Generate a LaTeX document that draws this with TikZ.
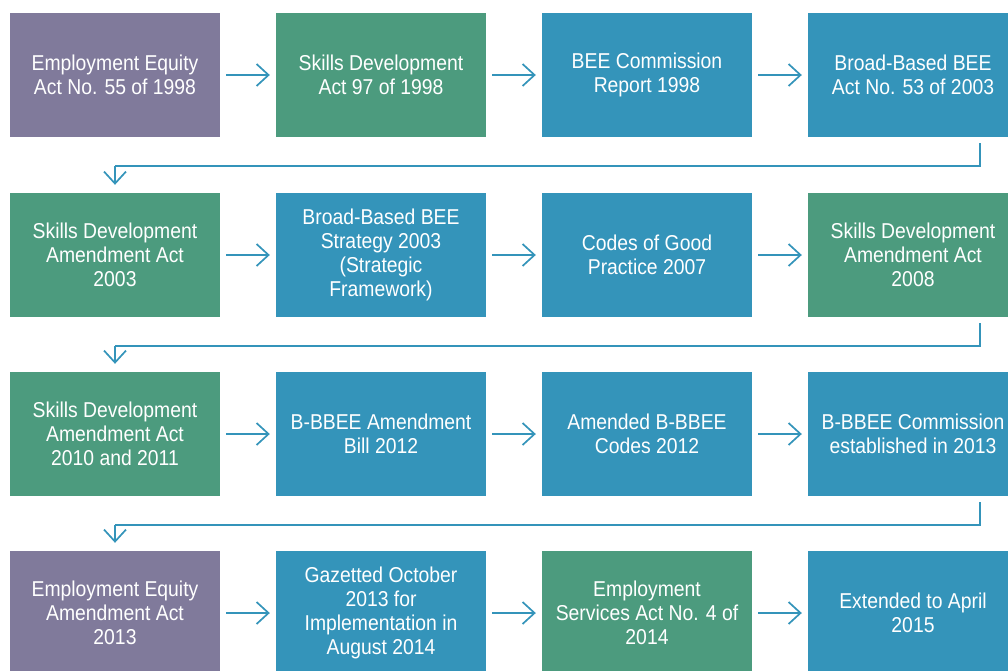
\documentclass[tikz,border=0pt]{standalone}
\usepackage{fontspec}
\setmainfont[FakeStretch=0.9]{Liberation Sans}
\usetikzlibrary{arrows.meta,calc}
\definecolor{cpurple}{RGB}{128,122,155}
\definecolor{cgreen}{RGB}{76,155,126}
\definecolor{cblue}{RGB}{52,148,186}
\begin{document}
\begin{tikzpicture}[x=1pt,y=-1pt,
  box/.style={minimum width=210pt,minimum height=124pt,inner sep=0pt,text=white,align=center,font=\fontsize{21.5}{24}\selectfont},
  pbox/.style={box,fill=cpurple},
  gbox/.style={box,fill=cgreen},
  bbox/.style={box,fill=cblue},
  arr/.style={draw=cblue,line width=1.7pt,-{Straight Barb[length=12pt,width=22pt,line width=1.7pt]}},
  conn/.style={draw=cblue,line width=1.7pt}]
\useasboundingbox (0,0) rectangle (1008,670);
\clip (0,0) rectangle (1008,670);
% row 1
\node[pbox] (r1c1) at (115,75) {Employment Equity\\Act No. 55 of 1998};
\node[gbox] (r1c2) at (381,75) {Skills Development\\Act 97 of 1998};
\node[bbox] (r1c3) at (647,75) {BEE Commission\\Report 1998};
\node[bbox] (r1c4) at (913,75) {Broad-Based BEE\\Act No. 53 of 2003};
% row 2
\node[gbox] (r2c1) at (115,255) {Skills Development\\Amendment Act\\2003};
\node[bbox] (r2c2) at (381,255) {Broad-Based BEE\\Strategy 2003\\(Strategic\\Framework)};
\node[bbox] (r2c3) at (647,255) {Codes of Good\\Practice 2007};
\node[gbox] (r2c4) at (913,255) {Skills Development\\Amendment Act\\2008};
% row 3
\node[gbox] (r3c1) at (115,434) {Skills Development\\Amendment Act\\2010 and 2011};
\node[bbox] (r3c2) at (381,434) {B-BBEE Amendment\\Bill 2012};
\node[bbox] (r3c3) at (647,434) {Amended B-BBEE\\Codes 2012};
\node[bbox] (r3c4) at (913,434) {B-BBEE Commission\\established in 2013};
% row 4
\node[pbox] (r4c1) at (115,613) {Employment Equity\\Amendment Act\\2013};
\node[bbox] (r4c2) at (381,613) {Gazetted October\\2013 for\\Implementation in\\August 2014};
\node[gbox] (r4c3) at (647,613) {Employment\\Services Act No. 4 of\\2014};
\node[bbox] (r4c4) at (913,613) {Extended to April\\2015};
% horizontal arrows
\foreach \r in {1,2,3,4}{
  \foreach \a/\b in {1/2,2/3,3/4}{
    \draw[arr] ($(r\r c\a.east)+(6,0)$) -- ($(r\r c\b.west)+(-6,0)$);
  }
}
% row-to-row connectors
\foreach \r/\n in {1/2,2/3,3/4}{
  \coordinate (s\r) at ($(r\r c4.south east)+(-38,6)$);
  \coordinate (m\r) at ($(r\r c4.south east)+(-38,29)$);
  \draw[conn] (s\r) -- (m\r) -- (m\r -| r\n c1.north);
  \draw[arr] (m\r -| r\n c1.north) -- ($(r\n c1.north)+(0,-8)$);
}
\end{tikzpicture}
\end{document}
